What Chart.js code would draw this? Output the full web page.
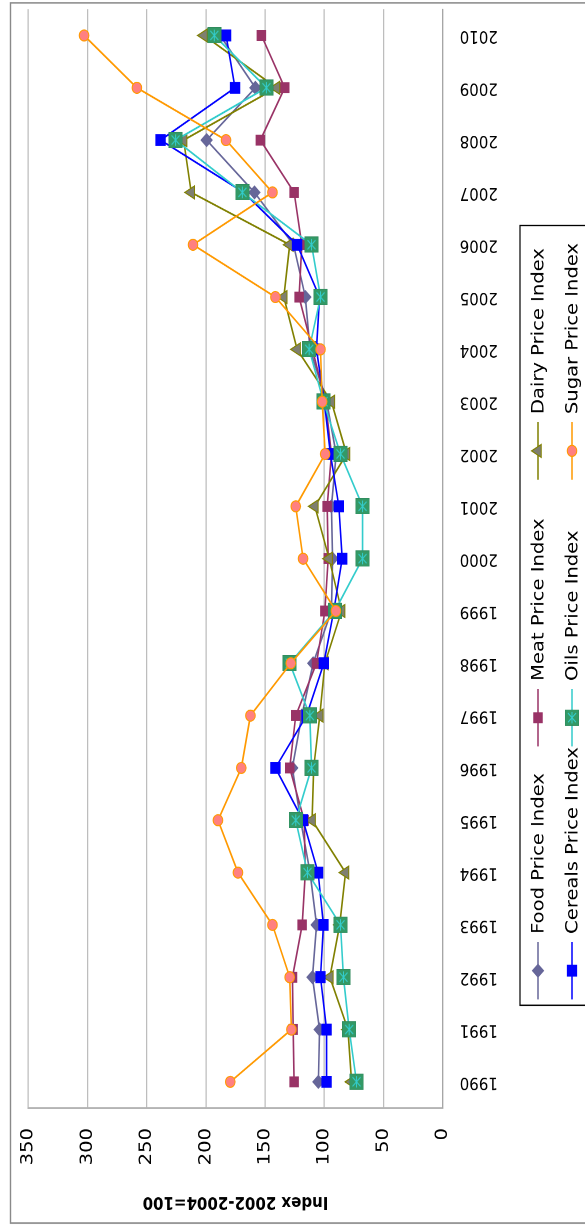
<!DOCTYPE html>
<html>
<head>
<meta charset="utf-8">
<script src="https://cdn.jsdelivr.net/npm/chart.js@4.4.0/dist/chart.umd.min.js"></script>
<style>
  html, body { margin: 0; padding: 0; background: #fff; overflow: hidden; }
  body { width: 585px; height: 1226px; position: relative; }
  /* the chart is drawn landscape, then turned a quarter turn and stretched along its length */
  #wrap {
    position: absolute; left: 0; top: 0;
    width: 1066px; height: 585px;
    transform-origin: 0 0;
    transform: translate(0, 1226px) rotate(-90deg) scale(1.15, 1);
  }
  #chart-food { display: block; width: 1066px; height: 585px; }
</style>
</head>
<body>
<div id="wrap"><canvas id="chart-food" width="1066" height="585"></canvas></div>
<script>
const years = ["1990", "1991", "1992", "1993", "1994", "1995", "1996", "1997", "1998", "1999",
  "2000", "2001", "2002", "2003", "2004", "2005", "2006", "2007", "2008", "2009", "2010"];

const foodIndex = [105, 104, 110, 106.5, 112, 120, 127, 119, 109.4, 94, 93, 94, 90, 98, 112, 116, 126, 159, 199.4, 158.2, 188];
const meatIndex = [125.5, 126.3, 126.9, 118.7, 116, 117, 129.2, 124.1, 106.6, 99.5, 96.7, 97.6, 94, 99, 110, 121.3, 119, 125.5, 154, 133.4, 153.1];
const dairyIndex = [77, 80, 95.3, 87, 82.1, 110.3, 109, 103.8, 99.5, 85.4, 95.9, 108, 81.2, 94, 123, 134.2, 129.2, 212.4, 218.8, 140.4, 201.6];
const cerealsIndex = [98.1, 98.1, 103.2, 100.7, 105.2, 118, 141.3, 115, 100.4, 92, 84.9, 87.7, 94.8, 100, 106.6, 104, 123, 168, 238.3, 175.4, 183];
const oilsIndex = [72.8, 79, 83.8, 86.3, 114.2, 124.1, 110.8, 112.2, 129.2, 91.1, 67.7, 67.7, 86.3, 100.7, 112.8, 103.2, 110.8, 169.2, 225.6, 148.9, 192.9];
const sugarIndex = [179.4, 127.8, 129.2, 143.8, 172.9, 189.8, 170.1, 162.4, 128.3, 90.2, 117.9, 124.1, 99.3, 101.8, 103.2, 141.3, 210.9, 143.8, 183, 258.3, 302.9];

const valueTicks = [0, 50, 100, 150, 200, 250, 300, 350];
const axisTitle = "Index 2002-2004=100";

Chart.defaults.font.family = "'DejaVu Sans', sans-serif";
Chart.defaults.color = "#000";

// green square with a cyan star, like the oils marker
function makeOilsMarker() {
  const c = document.createElement("canvas");
  c.width = 28;
  c.height = 28;
  const g = c.getContext("2d");
  g.fillStyle = "#339966";
  g.fillRect(0, 0, 28, 28);
  g.strokeStyle = "#2f8a5c";
  g.lineWidth = 1;
  g.strokeRect(0.5, 0.5, 27, 27);
  g.strokeStyle = "#33cccc";
  g.lineWidth = 2;
  g.beginPath();
  g.moveTo(6, 6); g.lineTo(22, 22);
  g.moveTo(22, 6); g.lineTo(6, 22);
  g.moveTo(4, 14); g.lineTo(24, 14);
  g.stroke();
  const img = new Image(14, 14);
  img.src = c.toDataURL();
  return img;
}

const frameBorder = {
  id: "frameBorder",
  beforeDraw(chart) {
    const ctx = chart.ctx;
    ctx.save();
    ctx.strokeStyle = "#8a8a8a";
    ctx.lineWidth = 1.4;
    ctx.strokeRect(2.6, 10.5, 1061, 700);
    ctx.restore();
  },
};

// legend in three fixed columns, line + marker + text
const LEGEND_COLS = [197, 417, 649];
const LEGEND_ROWS = [538, 572];
const boxLegend = {
  id: "boxLegend",
  afterDraw(chart) {
    const ctx = chart.ctx;
    ctx.save();
    ctx.strokeStyle = "#000";
    ctx.lineWidth = 1.2;
    ctx.strokeRect(192, 520, 678, 120);
    ctx.font = "17px 'DejaVu Sans'";
    ctx.textBaseline = "middle";
    chart.data.datasets.forEach((ds, i) => {
      const x = LEGEND_COLS[i % 3];
      const y = LEGEND_ROWS[Math.floor(i / 3)];
      ctx.strokeStyle = ds.borderColor;
      ctx.lineWidth = ds.borderWidth;
      ctx.beginPath();
      ctx.moveTo(x, y);
      ctx.lineTo(x + 50, y);
      ctx.stroke();
      ctx.fillStyle = ds.pointBackgroundColor;
      ctx.strokeStyle = ds.pointBorderColor;
      ctx.lineWidth = 1;
      Chart.helpers.drawPoint(ctx, {
        pointStyle: ds.pointStyle,
        radius: ds.pointRadius,
        borderWidth: ds.pointBorderWidth,
        rotation: 0,
      }, x + 25, y);
      ctx.fillStyle = "#000";
      ctx.fillText(ds.label, x + 57, y + 1);
    });
    ctx.restore();
  },
};

function series(label, data, color, style, radius, fill, border, order) {
  return {
    label: label,
    data: data,
    borderColor: color,
    borderWidth: 1.6,
    pointStyle: style,
    pointRadius: radius,
    pointHoverRadius: radius,
    pointBackgroundColor: fill,
    pointBorderColor: border,
    pointBorderWidth: 1,
    tension: 0,
    fill: false,
    order: order,
  };
}

function initialFoodChart(oilsMarker) {
  const ctx = document.getElementById("chart-food").getContext("2d");
  return new Chart(ctx, {
    type: "line",
    data: {
      labels: years,
      datasets: [
        series("Food Price Index", foodIndex, "#666699", "rectRot", 5.5, "#666699", "#666699", 6),
        series("Meat Price Index", meatIndex, "#993366", "rect", 6, "#993366", "#993366", 5),
        series("Dairy Price Index", dairyIndex, "#808000", "triangle", 6.5, "#7f7f70", "#808000", 4),
        series("Cereals Price Index", cerealsIndex, "#0000ff", "rect", 6.6, "#0000ff", "#0000ff", 3),
        series("Oils Price Index", oilsIndex, "#33cccc", oilsMarker, 7, "#339966", "#339966", 2),
        series("Sugar Price Index", sugarIndex, "#ff9900", "circle", 4.8, "#ff8080", "#ff9900", 1),
      ],
    },
    plugins: [frameBorder, boxLegend],
    options: {
      responsive: false,
      animation: false,
      devicePixelRatio: 2,
      layout: { padding: { left: 3, right: 7.7, top: 28.3, bottom: 0 } },
      plugins: {
        legend: { display: false },
        tooltip: { enabled: false },
      },
      scales: {
        x: {
          type: "category",
          offset: true,
          grid: { display: false, drawTicks: false },
          border: { display: true, color: "#a6a6a6", width: 1.3 },
          ticks: {
            autoSkip: false,
            minRotation: 90,
            maxRotation: 90,
            padding: 17,
            font: { size: 15 },
          },
          afterFit(scale) {
            scale.height = 585 - 442.7;
            scale.paddingLeft = 0;
            scale.paddingRight = 0;
          },
        },
        y: {
          min: 0,
          max: 350,
          afterBuildTicks(scale) {
            scale.ticks = valueTicks.map((v) => ({ value: v }));
          },
          grid: { color: "#bdbdbd", lineWidth: 1.2, drawTicks: false },
          border: { display: true, color: "#a6a6a6", width: 1.3 },
          ticks: { padding: 17.4, font: { size: 17 } },
          title: {
            display: true,
            text: axisTitle,
            font: { size: 15, weight: "bold" },
            padding: { top: 9, bottom: 0 },
          },
          afterFit(scale) {
            scale.width = 99.6;
            scale.paddingTop = 0;
            scale.paddingBottom = 0;
          },
        },
      },
    },
  });
}

const oilsMarker = makeOilsMarker();
oilsMarker.onload = () => initialFoodChart(oilsMarker);
</script>
</body>
</html>
